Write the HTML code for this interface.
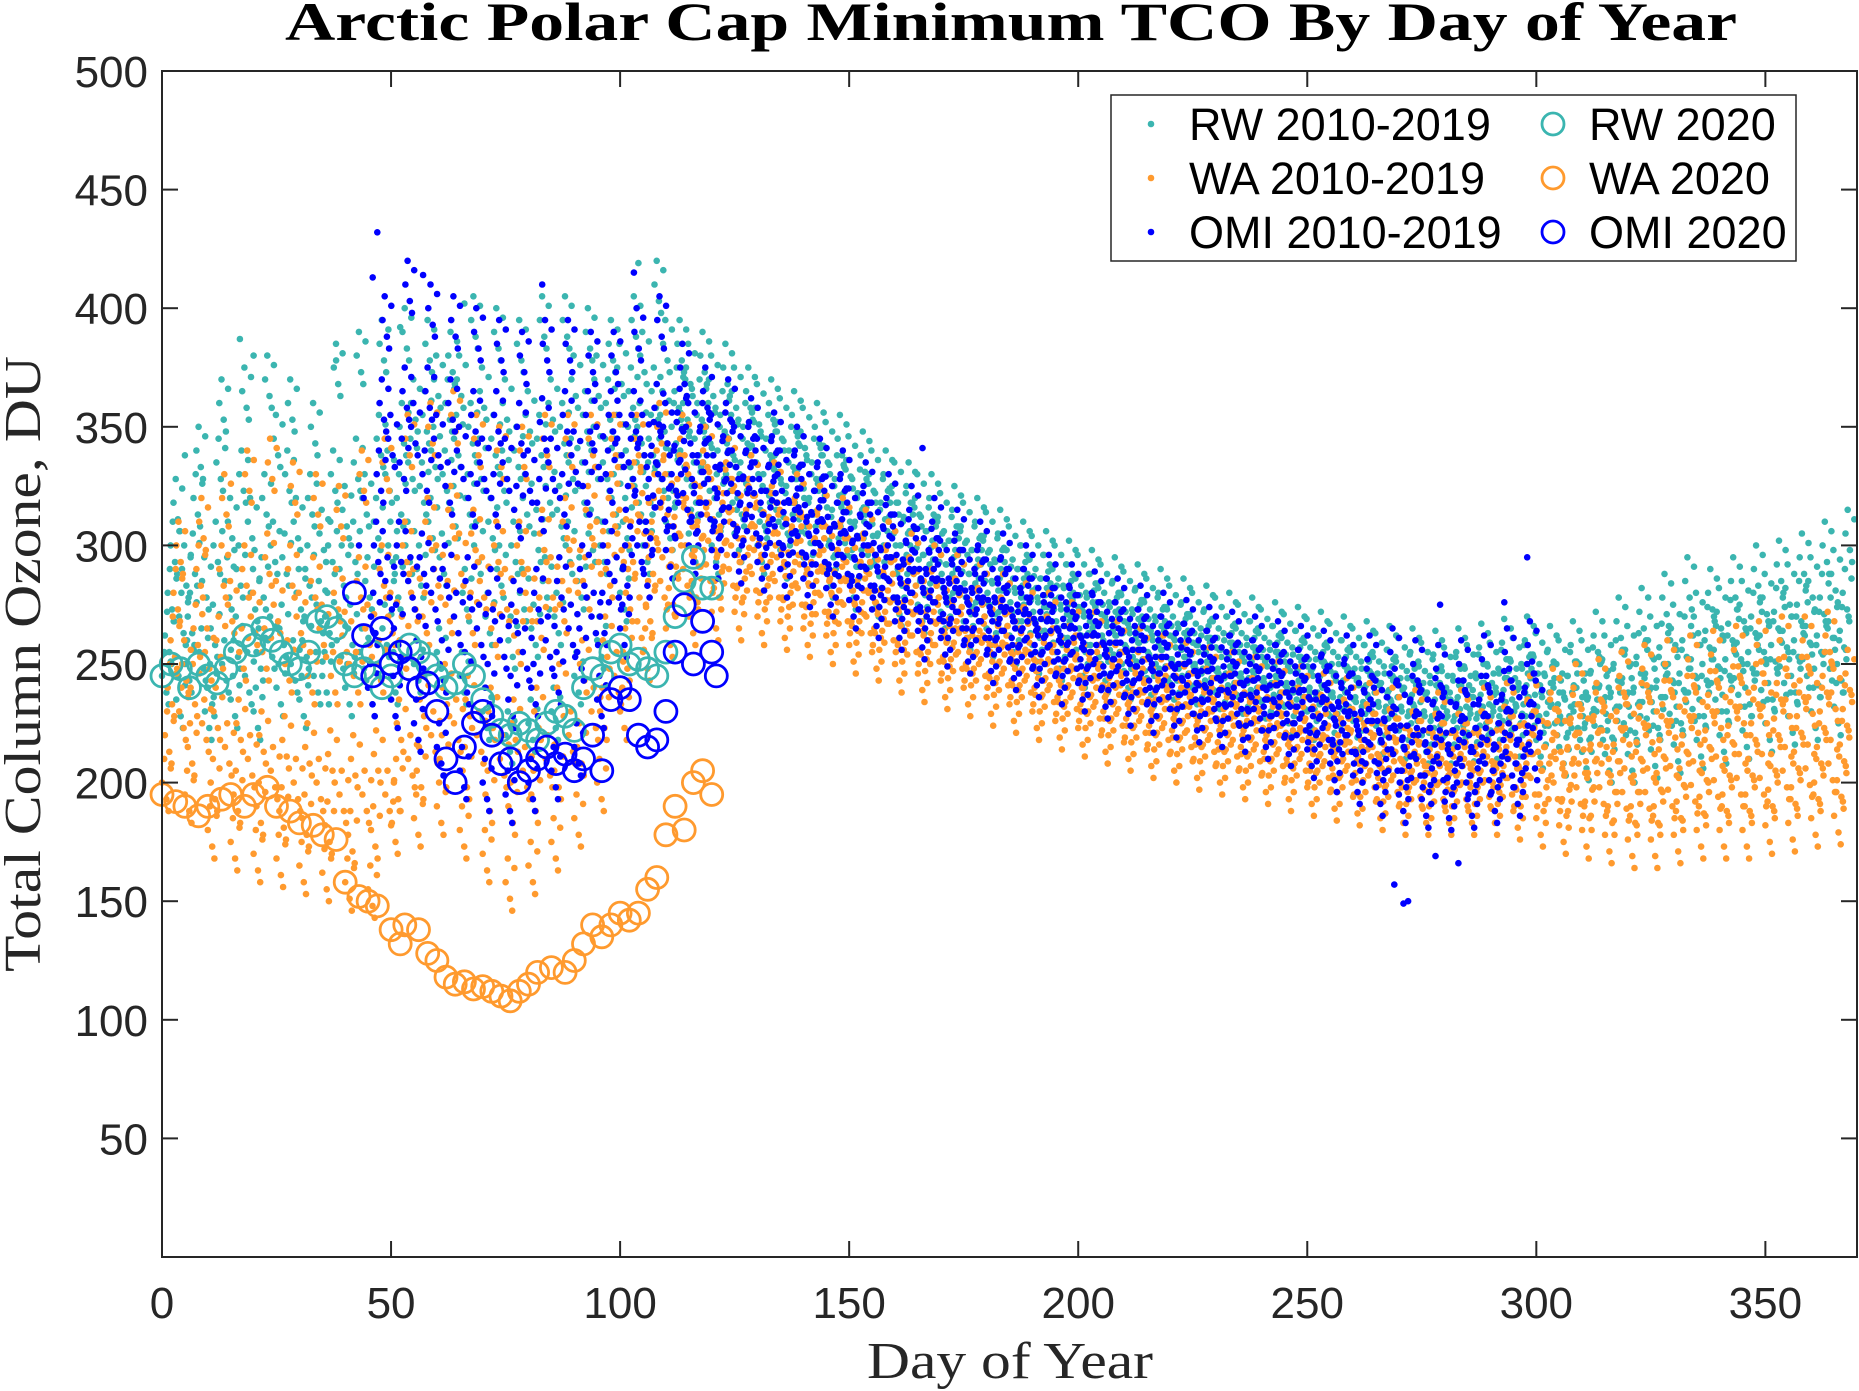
<!DOCTYPE html>
<html><head><meta charset="utf-8"><style>
html,body{margin:0;padding:0;background:#fff;}
svg{display:block;}
</style></head><body>
<svg id="chart" width="1859" height="1391" viewBox="0 0 1859 1391" xmlns="http://www.w3.org/2000/svg">
<rect x="0" y="0" width="1859" height="1391" fill="#fff"/>
<text x="285" y="40" textLength="1452" lengthAdjust="spacingAndGlyphs" font-family="Liberation Serif, serif" font-weight="bold" font-size="54" fill="#000">Arctic Polar Cap Minimum TCO By Day of Year</text>
<g id="marks"></g>
<g id="axes"></g>
<text x="867" y="1378" textLength="286" lengthAdjust="spacingAndGlyphs" font-family="Liberation Serif, serif" font-size="52" fill="#262626">Day of Year</text>
<text transform="translate(40,664) rotate(-90)" x="-308" y="0" textLength="616" lengthAdjust="spacingAndGlyphs" font-family="Liberation Serif, serif" font-size="52" fill="#262626">Total Column Ozone, DU</text>
<g id="legend"></g>
</svg>
<script>
const xTicks=[0,50,100,150,200,250,300,350];
const yTicks=[50,100,150,200,250,300,350,400,450,500];
const rwHist={0:[245,262,280,300,318,235,270,290],5:[250,270,295,320,340,255,285,230],10:[240,265,300,335,360,250,285,310],15:[235,260,290,330,365,245,310,280],20:[230,255,285,320,370,260,300,345],25:[240,265,295,330,360,250,310,280],30:[235,260,290,320,350,245,275,305],35:[245,270,300,330,375,260,290,315],40:[240,265,300,335,380,255,320,285],45:[240,270,310,345,385,265,330,300],50:[245,285,320,350,390,300,335,360],55:[250,290,325,355,385,310,340,370],60:[255,295,330,360,380,315,345,370],65:[245,280,320,350,395,300,335,365],70:[230,270,310,345,390,290,330,360],75:[220,260,300,340,385,280,320,355],80:[225,265,305,345,395,285,325,360],85:[230,270,315,350,395,300,335,370],90:[245,285,325,355,390,305,340,370],95:[260,300,335,360,385,320,345,375],100:[280,310,340,365,395,325,350,380],105:[300,325,345,365,410,335,355,385],110:[310,330,350,365,385,340,360,375],115:[305,325,345,360,380,335,350,370],120:[300,320,340,355,375,330,345,365],125:[305,320,335,350,365,328,342,358],130:[300,315,330,345,360,322,338,352],135:[298,312,325,340,355,318,332,348],140:[295,308,320,335,350,315,328,342],145:[290,302,315,328,345,308,322,336],150:[285,298,310,322,338,303,316,330],155:[282,294,305,318,330,300,312,325],160:[278,290,300,312,325,295,306,320],165:[275,286,296,306,320,290,300,312],170:[272,282,292,302,315,286,296,308],175:[268,278,288,298,310,282,292,304],180:[265,275,284,293,305,278,288,298],185:[262,272,280,290,300,275,284,294],190:[258,268,276,286,296,271,280,290],195:[255,265,273,282,292,268,277,286],200:[252,262,270,278,288,265,274,282],205:[250,258,266,274,285,262,270,279],210:[247,255,263,271,282,259,267,276],215:[244,252,260,268,280,256,264,273],220:[242,250,257,265,276,253,261,270],225:[240,248,255,262,273,251,259,268],230:[238,246,253,260,270,249,257,265],235:[236,244,251,258,268,247,255,263],240:[234,242,249,256,266,245,253,261],245:[232,240,247,254,264,243,251,259],250:[230,238,245,252,262,241,249,257],255:[228,236,243,250,260,239,247,255],260:[226,234,241,248,258,237,245,253],265:[224,232,239,246,256,235,243,251],270:[222,230,237,244,255,233,241,249],275:[220,228,235,242,254,231,239,247],280:[220,228,235,243,255,231,239,248],285:[221,229,236,244,257,232,240,249],290:[222,230,238,246,259,234,242,251],295:[223,232,240,248,260,236,244,253],300:[218,228,236,245,256,232,240,250],305:[215,226,235,245,258,230,240,250],310:[213,225,236,247,262,230,241,252],315:[212,226,238,250,268,232,244,256],320:[212,228,240,253,272,234,246,260],325:[214,230,243,257,278,236,250,265],330:[216,232,246,260,285,238,252,270],335:[218,235,250,264,280,242,256,272],340:[220,237,252,267,285,244,259,275],345:[222,240,255,270,290,246,262,278],350:[225,242,258,272,292,249,264,282],355:[228,245,260,275,295,252,266,285],360:[230,248,262,278,300,255,268,288],365:[232,250,264,280,305]};
const rwOutliers=[[17,387],[52,392],[66,402],[104,419],[5,338],[38,378],[20,380]];
const waHist={0:[200,220,240,260,280,300,230,250],5:[195,215,240,265,290,310,225,255],10:[180,200,230,260,290,320,215,275],15:[175,195,225,255,290,330,210,270],20:[170,190,220,255,295,335,205,275],25:[168,188,218,250,290,325,200,270],30:[165,185,215,245,285,320,200,265],35:[162,182,212,245,280,315,195,262],40:[158,178,210,245,285,330,195,265],45:[155,180,212,250,290,335,195,270],50:[182,200,225,260,300,345,210,280],55:[185,205,235,270,310,350,220,290],60:[190,210,240,275,315,355,225,295],65:[180,205,235,270,305,345,220,285],70:[170,195,230,265,300,340,210,280],75:[158,190,225,262,300,340,205,280],80:[165,195,230,268,305,345,210,285],85:[175,205,240,275,310,345,220,292],90:[185,215,250,285,315,345,230,300],95:[200,230,260,290,320,345,245,305],100:[230,255,280,300,325,345,268,312],105:[255,275,295,310,330,350,285,320],110:[265,282,298,312,328,345,290,320],115:[270,285,298,310,325,340,292,318],120:[272,285,296,308,322,335,290,315],125:[272,283,293,303,315,328,288,308],130:[270,280,290,300,312,325,285,305],135:[268,277,287,296,308,320,282,302],140:[265,274,283,292,303,315,279,298],145:[262,270,279,288,298,310,275,293],150:[258,266,275,283,293,305,270,288],155:[255,263,271,279,288,300,267,284],160:[250,258,266,274,283,295,262,279],165:[246,254,262,270,279,290,258,275],170:[243,251,259,266,275,286,255,271],175:[240,248,255,262,271,282,252,267],180:[236,244,251,258,266,278,248,262],185:[233,241,248,255,263,274,245,259],190:[230,237,244,251,259,270,241,255],195:[226,234,241,248,256,266,238,252],200:[223,230,237,244,252,262,234,248],205:[220,227,234,241,249,258,231,245],210:[217,224,231,238,246,255,228,242],215:[214,221,228,235,243,252,225,239],220:[212,219,226,233,240,249,222,236],225:[209,216,223,230,238,247,220,234],230:[207,214,221,228,236,245,218,232],235:[205,212,219,226,234,243,216,230],240:[203,210,217,224,232,241,214,228],245:[200,208,215,222,230,239,212,226],250:[198,205,212,219,227,236,209,223],255:[196,203,210,217,225,234,207,221],260:[194,201,208,215,223,232,205,219],265:[192,199,206,213,221,230,203,217],270:[190,198,205,212,220,229,201,216],275:[190,197,204,211,219,228,200,215],280:[190,197,204,211,219,229,200,215],285:[190,198,205,212,220,230,201,216],290:[190,198,206,214,222,232,202,218],295:[188,197,206,215,224,235,202,220],300:[185,195,205,215,225,238,200,220],305:[182,193,204,215,227,240,198,221],310:[180,192,204,216,228,242,198,222],315:[178,190,203,216,230,245,196,223],320:[176,190,203,217,232,248,196,224],325:[176,190,204,218,233,250,197,226],330:[178,192,206,220,235,252,199,228],335:[180,194,208,222,237,254,201,230],340:[180,195,210,224,239,256,202,232],345:[180,195,210,225,240,258,202,232],350:[182,197,212,227,242,260,205,235],355:[183,198,213,228,243,260,206,236],360:[185,200,215,230,245,262,208,238],365:[186,201,216,231,246]};
const omiHist={45:[240,270,300,330,360,395,285,345],50:[235,265,300,335,365,410,285,350],55:[225,260,295,330,365,400,280,345],60:[215,250,290,325,360,395,270,340],65:[205,245,285,320,355,390,265,335],70:[200,240,280,320,355,385,260,335],75:[195,235,275,315,350,380,255,330],80:[200,240,280,318,352,385,260,335],85:[205,245,285,320,355,385,265,338],90:[215,255,290,325,355,380,270,340],95:[235,270,300,330,355,380,285,345],100:[265,290,315,335,355,390,300,345],105:[290,310,328,342,358,395,318,350],110:[298,315,330,342,356,375,322,350],115:[300,312,325,338,350,365,318,345],120:[298,310,322,334,346,360,316,340],125:[296,307,318,329,340,352,312,335],130:[293,303,313,323,334,346,308,330],135:[290,299,309,318,328,340,304,324],140:[286,295,304,313,323,335,300,319],145:[282,290,299,308,318,330,295,314],150:[277,285,294,303,312,325,290,308],155:[273,281,289,298,307,320,285,303],160:[268,276,284,292,301,315,280,297],165:[264,272,280,288,297,310,276,292],170:[261,268,276,284,292,305,272,288],175:[258,265,272,280,288,300,268,284],180:[254,261,268,276,284,295,264,280],185:[251,258,265,272,280,290,261,276],190:[248,255,262,269,276,286,258,272],195:[245,252,259,266,273,282,255,269],200:[242,249,256,262,270,279,252,266],205:[239,246,253,259,266,276,249,263],210:[236,243,250,256,263,273,246,260],215:[233,240,247,253,260,270,243,257],220:[231,238,244,250,257,267,241,254],225:[229,235,241,247,254,264,238,251],230:[227,233,239,245,252,262,236,249],235:[225,231,237,243,250,260,234,247],240:[222,229,235,241,248,258,232,245],245:[219,226,232,239,246,256,229,243],250:[214,221,228,235,243,254,225,239],255:[208,216,224,232,240,252,220,236],260:[203,212,220,229,238,252,216,233],265:[198,208,217,226,236,255,212,231],270:[195,205,214,224,235,250,210,229],275:[193,203,213,223,234,248,208,228],280:[192,202,212,222,233,250,207,227],285:[193,203,213,223,235,252,208,228],290:[195,205,215,225,237,255,210,230],295:[198,208,218,228,240,258,213,233]};
const omiOutliers=[[47,432],[46,413],[57,414],[83,410],[103,415],[269,157],[271,149],[272,150],[278,169],[283,166],[298,295],[293,276],[279,275],[166,341],[43,300],[44,320]];
const rw2020Days=[0,2,4,6,8,10,12,14,16,18,20,22,24,26,28,30,32,34,36,38,40,42,44,46,48,50,52,54,56,58,60,62,64,66,68,70,72,74,76,78,80,82,84,86,88,90,92,94,96,98,100,102,104,106,108,110,112,114,116,118,120];
const rw2020Vals=[245,250,248,240,250,245,242,248,255,262,258,265,260,255,250,248,255,268,270,265,250,245,248,255,240,245,255,258,255,250,245,240,242,250,245,235,228,222,220,225,222,218,225,230,228,222,240,248,245,255,258,250,252,248,245,255,270,285,295,282,282];
const wa2020Days=[0,3,5,8,10,13,15,18,20,23,25,28,30,33,35,38,40,43,45,47,50,52,53,56,58,60,62,64,66,68,70,72,74,76,78,80,82,85,88,90,92,94,96,98,100,102,104,106,108,110,112,114,116,118,120];
const wa2020Vals=[195,192,190,186,190,193,195,190,195,198,190,188,183,182,178,176,158,152,150,148,138,132,140,138,128,125,118,115,116,113,114,112,110,108,112,115,120,122,120,125,132,140,135,140,145,142,145,155,160,178,190,180,200,205,195];
const omi2020Days=[42,44,46,48,50,52,54,56,58,60,62,64,66,68,70,72,74,76,78,80,82,84,86,88,90,92,94,96,98,100,102,104,106,108,110,112,114,116,118,120,121];
const omi2020Vals=[280,262,245,265,250,255,248,240,242,230,210,200,215,225,230,220,208,210,200,205,210,215,208,212,205,210,220,205,235,240,235,220,215,218,230,255,275,250,268,255,245];

const L=162,R=1857,T=71,B=1257,XMAX=370,YMAX=500;
const xs=d=>L+(d/XMAX)*(R-L);
const ys=v=>B-(v/YMAX)*(B-T);
const NS='http://www.w3.org/2000/svg';
const marks=document.getElementById('marks');
const axes=document.getElementById('axes');
const legend=document.getElementById('legend');
const C_RW='#3bb5b0',C_WA='#ff9a2e',C_OMI='#0000ff';
const CL=[[0,0],[1.6,-7],[3.2,6],[0.8,10],[2.4,-12]];

function mk(tag,parent){const e=document.createElementNS(NS,tag);parent.appendChild(e);return e;}
function dot(g,d,v,color){
  const c=mk('circle',g);
  
  
  c.setAttribute('cx',xs(d).toFixed(1));c.setAttribute('cy',ys(v).toFixed(1));
  c.setAttribute('r','3.3');c.setAttribute('fill',color);
}
function drawHist(obj,out,color,name){
  const g=mk('g',marks);
  
  
  Object.keys(obj).forEach(k=>{
    const b=+k;
    obj[k].forEach((v,j)=>{
      CL.forEach(o=>{
        const d=b+j*0.625+o[0]*0.6;
        if(d>369.5)return;
        dot(g,d,v+o[1],color);
      });
    });
  });
  out.forEach(p=>dot(g,p[0],p[1],color));
}
function draw2020(days,vals,color,name){
  const g=mk('g',marks);
  
  
  days.forEach((d,i)=>{
    const c=mk('circle',g);
    
    
    c.setAttribute('cx',xs(d).toFixed(1));c.setAttribute('cy',ys(vals[i]).toFixed(1));
    c.setAttribute('r','11');c.setAttribute('fill','none');
    c.setAttribute('stroke',color);c.setAttribute('stroke-width','2.8');
  });
}
drawHist(rwHist,rwOutliers,C_RW,'rw-2010-2019-series');
drawHist(waHist,[],C_WA,'wa-2010-2019-series');
drawHist(omiHist,omiOutliers,C_OMI,'omi-2010-2019-series');
draw2020(rw2020Days,rw2020Vals,C_RW,'rw-2020-series');
draw2020(wa2020Days,wa2020Vals,C_WA,'wa-2020-series');
draw2020(omi2020Days,omi2020Vals,C_OMI,'omi-2020-series');

const box=mk('rect',axes);


box.setAttribute('x',L);box.setAttribute('y',T);box.setAttribute('width',R-L);box.setAttribute('height',B-T);
box.setAttribute('fill','none');box.setAttribute('stroke','#262626');box.setAttribute('stroke-width','2');
const TL=16;
xTicks.forEach(t=>{
  const x=xs(t);
  [[B,B-TL],[T,T+TL]].forEach(([a,b])=>{
    const l=mk('line',axes);
    
    
    l.setAttribute('x1',x);l.setAttribute('x2',x);l.setAttribute('y1',a);l.setAttribute('y2',b);
    l.setAttribute('stroke','#262626');l.setAttribute('stroke-width','2');
  });
  const tx=mk('text',axes);
  
  
  tx.setAttribute('x',x);tx.setAttribute('y',1318);tx.setAttribute('text-anchor','middle');
  tx.setAttribute('font-family','Liberation Sans, sans-serif');tx.setAttribute('font-size','44');tx.setAttribute('fill','#262626');
  tx.textContent=t;
});
yTicks.forEach(t=>{
  const y=ys(t);
  [[L,L+TL],[R,R-TL]].forEach(([a,b])=>{
    const l=mk('line',axes);
    
    
    l.setAttribute('x1',a);l.setAttribute('x2',b);l.setAttribute('y1',y);l.setAttribute('y2',y);
    l.setAttribute('stroke','#262626');l.setAttribute('stroke-width','2');
  });
  const tx=mk('text',axes);
  
  
  tx.setAttribute('x',148);tx.setAttribute('y',y+16);tx.setAttribute('text-anchor','end');
  tx.setAttribute('font-family','Liberation Sans, sans-serif');tx.setAttribute('font-size','44');tx.setAttribute('fill','#262626');
  tx.textContent=t;
});

const lb=mk('rect',legend);


lb.setAttribute('x',1111);lb.setAttribute('y',95);lb.setAttribute('width',685);lb.setAttribute('height',166);
lb.setAttribute('fill','#fff');lb.setAttribute('stroke','#262626');lb.setAttribute('stroke-width','1.5');
const legLabels=['RW 2010-2019','WA 2010-2019','OMI 2010-2019','RW 2020','WA 2020','OMI 2020'];
const legColors=[C_RW,C_WA,C_OMI,C_RW,C_WA,C_OMI];
legLabels.forEach((lab,i)=>{
  const col=i<3?0:1,row=i%3;
  const cy=124+row*54;
  const mx=col?1553:1151;
  const m=mk('circle',legend);
  
  
  m.setAttribute('cx',mx);m.setAttribute('cy',cy);
  if(col){m.setAttribute('r','11');m.setAttribute('fill','none');m.setAttribute('stroke',legColors[i]);m.setAttribute('stroke-width','2.8');}
  else{m.setAttribute('r','3.3');m.setAttribute('fill',legColors[i]);}
  const tx=mk('text',legend);
  
  
  tx.setAttribute('x',col?1589:1189);tx.setAttribute('y',cy+16);
  tx.setAttribute('font-family','Liberation Sans, sans-serif');tx.setAttribute('font-size','45');tx.setAttribute('fill','#000');
  tx.textContent=lab;
});
</script>
</body></html>
